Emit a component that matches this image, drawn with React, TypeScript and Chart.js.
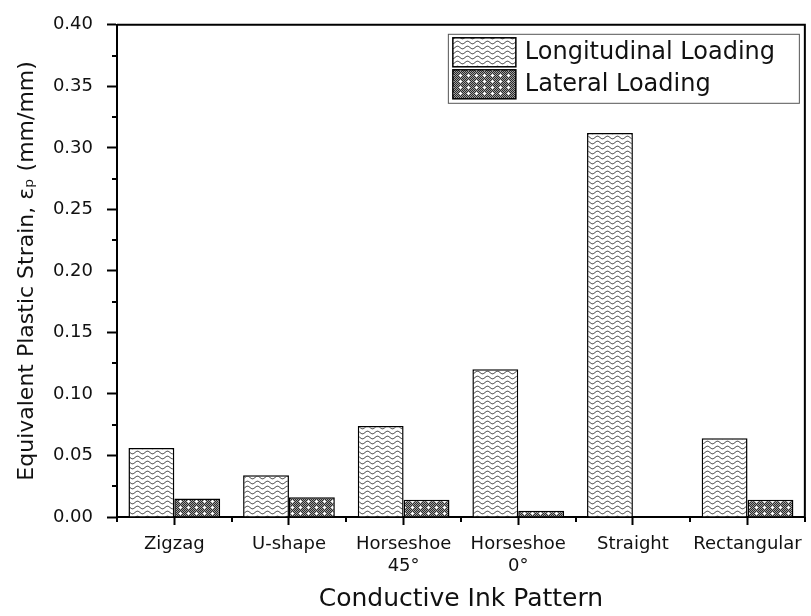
import React, { useEffect, useRef } from 'react';
import { Chart, registerables } from 'chart.js';

Chart.register(...registerables);

// ---- data ----
const categories: (string | string[])[] = [
  'Zigzag',
  'U-shape',
  ['Horseshoe', '45°'],
  ['Horseshoe', '0°'],
  'Straight',
  'Rectangular',
];
const longitudinal = [0.056, 0.034, 0.074, 0.12, 0.312, 0.064];
const lateral = [0.015, 0.016, 0.014, 0.005, 0, 0.014];
const seriesNames = ['Longitudinal Loading', 'Lateral Loading'];
const yMin = 0;
const yMax = 0.4;
const yStep = 0.05;
const xTitle = 'Conductive Ink Pattern';
const yTitle = 'Equivalent Plastic Strain, εₚ (mm/mm)';

const FONT = "'DejaVu Sans', 'Liberation Sans', Arial, sans-serif";

function makeWavePattern(ctx: CanvasRenderingContext2D): CanvasPattern | string {
  const c = document.createElement('canvas');
  c.width = 10;
  c.height = 5;
  const g = c.getContext('2d')!;
  g.fillStyle = '#ffffff';
  g.fillRect(0, 0, 10, 5);
  g.strokeStyle = '#2e2e2e';
  g.lineWidth = 1;
  g.beginPath();
  for (let i = 0; i <= 20; i++) {
    const x = i / 2;
    const y = 2.5 + 1.3 * Math.sin((2 * Math.PI * x) / 10);
    if (i === 0) g.moveTo(x, y);
    else g.lineTo(x, y);
  }
  g.stroke();
  return ctx.createPattern(c, 'repeat') || '#ddd';
}

function makeDotPattern(ctx: CanvasRenderingContext2D): CanvasPattern | string {
  const w = 8;
  const h = 6;
  const c = document.createElement('canvas');
  c.width = w;
  c.height = h;
  const g = c.getContext('2d')!;
  for (let yy = 0; yy < h; yy++) {
    for (let xx = 0; xx < w; xx++) {
      g.fillStyle = (xx + yy) % 2 === 0 ? '#2a2a2a' : '#a0a0a0';
      g.fillRect(xx, yy, 1, 1);
    }
  }
  g.fillStyle = '#ffffff';
  g.fillRect(4, 2, 1, 1);
  g.fillRect(3, 3, 3, 1);
  g.fillRect(4, 4, 1, 1);
  return ctx.createPattern(c, 'repeat') || '#777';
}

const decorPlugin = {
  id: 'decor',
  afterDraw(chart: any) {
    const { ctx, chartArea: a, scales } = chart;
    const xs = scales.x;
    const ys = scales.y;
    ctx.save();
    ctx.strokeStyle = '#000';
    ctx.lineWidth = 2;
    ctx.beginPath();
    // minor y ticks
    for (let v = yMin + yStep / 2; v < yMax; v += yStep) {
      const py = Math.round(ys.getPixelForValue(v));
      ctx.moveTo(a.left - 5, py);
      ctx.lineTo(a.left, py);
    }
    // minor x ticks at category boundaries
    const n = categories.length;
    const bounds: number[] = [a.left];
    for (let i = 0; i < n - 1; i++) {
      bounds.push((xs.getPixelForValue(i) + xs.getPixelForValue(i + 1)) / 2);
    }
    bounds.push(a.right);
    bounds.forEach((bx) => {
      const px = Math.round(bx);
      ctx.moveTo(px, a.bottom);
      ctx.lineTo(px, a.bottom + 5);
    });
    ctx.stroke();
    // frame top and right
    ctx.beginPath();
    ctx.moveTo(a.left, a.top);
    ctx.lineTo(a.right, a.top);
    ctx.lineTo(a.right, a.bottom);
    ctx.stroke();

    // legend
    const bx = a.right - 357;
    const by = a.top + 9;
    const bw = 351;
    const bh = 69;
    ctx.fillStyle = '#fff';
    ctx.fillRect(bx, by, bw, bh);
    ctx.strokeStyle = '#555';
    ctx.lineWidth = 1;
    ctx.strokeRect(bx + 0.5, by + 0.5, bw, bh);
    const rows = [by + 4, by + 36];
    chart.data.datasets.forEach((ds: any, i: number) => {
      const ry = rows[i];
      ctx.fillStyle = ds.backgroundColor;
      ctx.fillRect(bx + 5, ry, 63, 29);
      ctx.strokeStyle = '#000';
      ctx.lineWidth = 1.5;
      ctx.strokeRect(bx + 5, ry, 63, 29);
      ctx.fillStyle = '#111';
      ctx.font = `24px ${FONT}`;
      ctx.textBaseline = 'middle';
      ctx.textAlign = 'left';
      ctx.fillText(ds.label, bx + 77, ry + 15);
    });
    ctx.restore();
  },
};

export default function App() {
  const ref = useRef<HTMLCanvasElement | null>(null);

  useEffect(() => {
    const canvas = ref.current;
    if (!canvas) return;
    const ctx = canvas.getContext('2d')!;
    const wave = makeWavePattern(ctx);
    const dots = makeDotPattern(ctx);

    const chart = new Chart(canvas, {
      type: 'bar',
      data: {
        labels: categories,
        datasets: [
          {
            label: seriesNames[0],
            data: longitudinal,
            backgroundColor: wave as any,
            borderColor: '#000',
            borderWidth: 1.5,
            categoryPercentage: 0.8,
            barPercentage: 1.0,
          },
          {
            label: seriesNames[1],
            data: lateral,
            backgroundColor: dots as any,
            borderColor: '#000',
            borderWidth: 1.5,
            categoryPercentage: 0.8,
            barPercentage: 1.0,
          },
        ],
      },
      options: {
        responsive: false,
        animation: false,
        layout: { padding: { left: 0, top: 18, right: 3, bottom: 0 } },
        plugins: {
          legend: { display: false },
          tooltip: { enabled: false },
        },
        scales: {
          x: {
            offset: true,
            grid: {
              offset: false,
              drawOnChartArea: false,
              drawTicks: true,
              tickLength: 8,
              tickColor: '#000',
              tickWidth: 2,
            },
            border: { color: '#000', width: 2 },
            ticks: {
              color: '#111',
              font: { family: FONT, size: 18 },
              padding: 9,
              maxRotation: 0,
              autoSkip: false,
            },
            title: {
              display: true,
              text: xTitle,
              color: '#111',
              font: { family: FONT, size: 25 },
              padding: { top: 0, bottom: 2 },
            },
            afterFit(scale: any) {
              scale.height = 99;
            },
          },
          y: {
            min: yMin,
            max: yMax,
            grid: {
              drawOnChartArea: false,
              drawTicks: true,
              tickLength: 10,
              tickColor: '#000',
              tickWidth: 2,
            },
            border: { color: '#000', width: 2 },
            ticks: {
              stepSize: yStep,
              color: '#111',
              font: { family: FONT, size: 18 },
              padding: 14,
              callback: (v: any) => Number(v).toFixed(2),
            },
            title: {
              display: true,
              text: yTitle,
              color: '#111',
              font: { family: FONT, size: 22 },
              padding: { top: 14, bottom: 0 },
            },
            afterFit(scale: any) {
              scale.width = 117;
            },
          },
        },
      },
      plugins: [decorPlugin],
    });
    return () => chart.destroy();
  }, []);

  return (
    <div style={{ position: 'fixed', left: 0, top: 0, width: 811, height: 616, background: '#fff' }}>
      <canvas ref={ref} width={811} height={616} style={{ display: 'block' }} />
    </div>
  );
}
